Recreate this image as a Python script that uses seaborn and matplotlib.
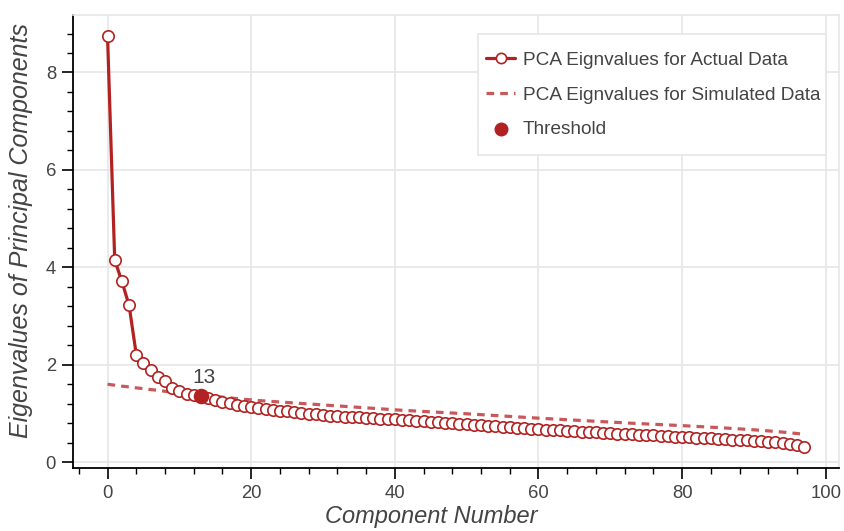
import numpy as np
import pandas as pd
import seaborn as sns
import matplotlib
matplotlib.use("Agg")
import matplotlib.pyplot as plt
from matplotlib.ticker import MultipleLocator
from matplotlib.patches import Rectangle

# ---------------- data ----------------
actual_eigenvalues = [
    8.75, 4.15, 3.71, 3.22, 2.21, 2.03, 1.90, 1.75, 1.67, 1.53,
    1.46, 1.40, 1.38, 1.35, 1.31, 1.27, 1.24, 1.21, 1.18, 1.16,
    1.14, 1.115, 1.095, 1.07, 1.05, 1.04, 1.03, 1.01, 0.99, 0.98,
    0.97, 0.955, 0.945, 0.935, 0.925, 0.92, 0.91, 0.90, 0.895, 0.885,
    0.88, 0.87, 0.86, 0.85, 0.84, 0.83, 0.82, 0.81, 0.80, 0.79,
    0.78, 0.77, 0.755, 0.745, 0.735, 0.725, 0.715, 0.705, 0.695, 0.685,
    0.675, 0.67, 0.66, 0.65, 0.645, 0.635, 0.625, 0.62, 0.61, 0.60,
    0.595, 0.585, 0.58, 0.57, 0.565, 0.555, 0.55, 0.54, 0.535, 0.525,
    0.52, 0.51, 0.505, 0.495, 0.49, 0.48, 0.475, 0.465, 0.455, 0.45,
    0.44, 0.43, 0.42, 0.405, 0.39, 0.37, 0.345, 0.31,
]
simulated_eigenvalues = [
    1.60, 1.58, 1.56, 1.545, 1.525, 1.51, 1.49, 1.475, 1.455, 1.44,
    1.425, 1.41, 1.395, 1.38, 1.365, 1.35, 1.335, 1.32, 1.305, 1.29,
    1.28, 1.265, 1.255, 1.245, 1.235, 1.225, 1.215, 1.205, 1.195, 1.185,
    1.175, 1.165, 1.155, 1.145, 1.135, 1.125, 1.115, 1.105, 1.095, 1.085,
    1.075, 1.065, 1.057, 1.049, 1.041, 1.033, 1.025, 1.017, 1.009, 1.001,
    0.993, 0.985, 0.975, 0.966, 0.957, 0.948, 0.939, 0.930, 0.921, 0.912,
    0.903, 0.895, 0.887, 0.879, 0.871, 0.863, 0.855, 0.847, 0.839, 0.831,
    0.823, 0.815, 0.807, 0.799, 0.792, 0.785, 0.778, 0.771, 0.764, 0.757,
    0.750, 0.742, 0.734, 0.726, 0.718, 0.710, 0.701, 0.692, 0.683, 0.674,
    0.664, 0.653, 0.642, 0.630, 0.617, 0.603, 0.588, 0.572,
]
components = list(range(len(actual_eigenvalues)))
threshold_component = 13
threshold_value = actual_eigenvalues[threshold_component]
threshold_label = "13"

x_ticks = [0, 20, 40, 60, 80, 100]
y_ticks = [0, 2, 4, 6, 8]

legend_labels = ["PCA Eignvalues for Actual Data",
                 "PCA Eignvalues for Simulated Data",
                 "Threshold"]

df_actual = pd.DataFrame({"component": components, "value": actual_eigenvalues})
df_sim = pd.DataFrame({"component": components, "value": simulated_eigenvalues})
df_thr = pd.DataFrame({"component": [threshold_component], "value": [threshold_value]})

# ---------------- style ----------------
sns.set_theme(style="ticks")
plt.rcParams["font.family"] = ["Liberation Sans", "DejaVu Sans"]

RED = "#b22222"
SIM = "#c9585a"
TXT = "#444444"
GRID = "#e6e6e6"
W, H = 845, 531

fig = plt.figure(figsize=(8.45, 5.31), dpi=100)
ax = fig.add_axes([72.7 / W, (H - 468) / H, (839 - 72.7) / W, (468 - 15) / H])

sns.lineplot(data=df_sim, x="component", y="value", ax=ax, color=SIM,
             linewidth=2.3, dashes=False, linestyle=(0, (2.4, 1.9)),
             label=legend_labels[1], zorder=2)
sns.lineplot(data=df_actual, x="component", y="value", ax=ax, color=RED,
             linewidth=2.3, marker="o", markersize=8.2, markerfacecolor="white",
             markeredgecolor=RED, markeredgewidth=1.2,
             label=legend_labels[0], zorder=3)
sns.scatterplot(data=df_thr, x="component", y="value", ax=ax, color=RED,
                s=125, edgecolor=RED, linewidth=0, label=legend_labels[2], zorder=4)

ax.annotate(threshold_label, (threshold_component, threshold_value),
            xytext=(2, 7), textcoords="offset points", ha="center", va="bottom",
            fontsize=15, color=TXT, zorder=5)

# axes ranges and ticks
ax.set_xlim(-4.85, 101.85)
ax.set_ylim(-0.12, 9.18)
ax.set_xticks(x_ticks)
ax.set_yticks(y_ticks)
ax.xaxis.set_minor_locator(MultipleLocator(4))
ax.yaxis.set_minor_locator(MultipleLocator(0.4))
ax.tick_params(which="major", direction="out", length=8, width=1.2, colors="black",
               labelcolor=TXT, labelsize=13.3, pad=4)
ax.tick_params(which="minor", direction="out", length=4, width=1.0, colors="black")

ax.grid(True, which="major", color=GRID, linewidth=1.2)
ax.set_axisbelow(True)

for side in ["top", "right"]:
    ax.spines[side].set_color(GRID)
    ax.spines[side].set_linewidth(1.2)
for side in ["left", "bottom"]:
    ax.spines[side].set_color("black")
    ax.spines[side].set_linewidth(1.3)

ax.set_xlabel("Component Number", fontsize=17, fontstyle="italic", color=TXT)
ax.set_ylabel("Eigenvalues of Principal Components", fontsize=18, fontstyle="italic",
              color=TXT)
ax.xaxis.label.set_va("center")
ax.xaxis.set_label_coords((431 - 72.7) / 766.3, (468 - 517) / 453)
ax.yaxis.label.set_va("center")
ax.yaxis.set_label_coords((21 - 72.7) / 766.3, (468 - 230) / 453)

# legend box (drawn as a separate frame to match the reference padding)
ax.add_patch(Rectangle((478 / W, 1 - 155 / H), (826 - 478) / W, (155 - 34) / H,
                       transform=fig.transFigure, facecolor="white", edgecolor=GRID,
                       linewidth=1.2, clip_on=False, zorder=4.5))

handles, labels = ax.get_legend_handles_labels()
order = [labels.index(l) for l in legend_labels]
leg = ax.legend([handles[i] for i in order], [labels[i] for i in order],
                loc="upper left", bbox_to_anchor=(486 / W, 1 - 51.5 / H),
                bbox_transform=fig.transFigure, borderaxespad=0, borderpad=0,
                fontsize=13.7, frameon=False, labelcolor=TXT, handlelength=1.53,
                handletextpad=0.42, labelspacing=0.92, numpoints=1,
                markerscale=0.9)
leg.set_zorder(6)

fig.savefig("out.png", dpi=100)
